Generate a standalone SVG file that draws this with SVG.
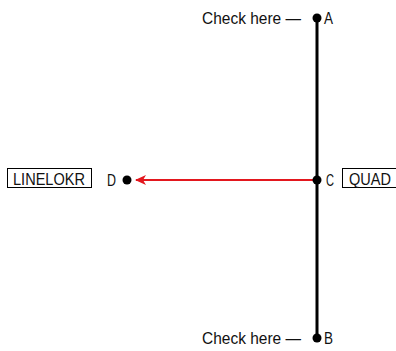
<svg xmlns="http://www.w3.org/2000/svg" width="396" height="351" viewBox="0 0 396 351">
<defs>
<style>
text{font-family:"Liberation Sans",Arial,sans-serif;font-size:17px;fill:#111}
.dot{fill:#000}
.box{fill:#fff;stroke:#000;stroke-width:1}
</style>
<marker id="ah" markerWidth="12" markerHeight="10" refX="10" refY="5" orient="auto" markerUnits="userSpaceOnUse">
<path d="M0,0 L11,5 L0,10 L3,5 Z" fill="#e3171e"/>
</marker>
</defs>
<rect width="396" height="351" fill="#fff"/>
<g id="connectors">
<line x1="313" y1="180" x2="136" y2="180" stroke="#e3171e" stroke-width="2" marker-end="url(#ah)"/>
<line x1="317" y1="18" x2="317" y2="338" stroke="#000" stroke-width="3"/>
</g>
<g id="A">
<circle class="dot" cx="317" cy="18" r="4.5"/>
<text x="324" y="24" textLength="9" lengthAdjust="spacingAndGlyphs">A</text>
<text x="202" y="24" textLength="99" lengthAdjust="spacingAndGlyphs">Check here —</text>
</g>
<g id="C">
<circle class="dot" cx="317" cy="180" r="4.5"/>
<text x="326" y="186" textLength="8" lengthAdjust="spacingAndGlyphs">C</text>
<rect class="box" x="342.5" y="168.5" width="60" height="19"/>
<text x="349" y="184.5" textLength="42" lengthAdjust="spacingAndGlyphs">QUAD</text>
</g>
<g id="B">
<circle class="dot" cx="317" cy="338" r="4.5"/>
<text x="324" y="344" textLength="9" lengthAdjust="spacingAndGlyphs">B</text>
<text x="202" y="344" textLength="99" lengthAdjust="spacingAndGlyphs">Check here —</text>
</g>
<g id="D">
<circle class="dot" cx="127" cy="180" r="4.5"/>
<text x="107" y="186" textLength="9" lengthAdjust="spacingAndGlyphs">D</text>
<rect class="box" x="7.5" y="168.5" width="84" height="19"/>
<text x="13" y="184.5" textLength="72" lengthAdjust="spacingAndGlyphs">LINELOKR</text>
</g>
</svg>
